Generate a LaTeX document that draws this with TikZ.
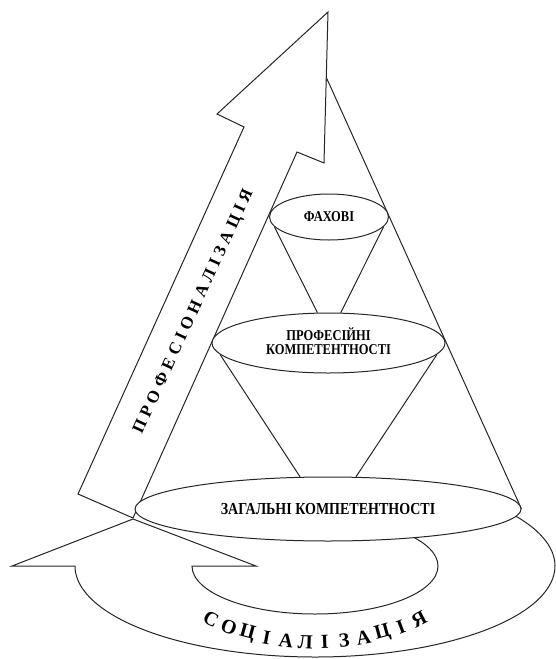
\documentclass[tikz,border=0pt]{standalone}
\usepackage{fontspec}
\setmainfont{Liberation Serif}
\usetikzlibrary{shapes.geometric,calc}
\pgfdeclarelayer{bg}
\pgfsetlayers{bg,main}
\newcommand{\tallbox}[1]{\scalebox{1}[1.2]{#1}}
\begin{document}
\begin{tikzpicture}[x=1pt,y=-1pt,
  ln/.style={draw=black!85, line width=1pt, line join=miter},
  ell/.style={ellipse, draw=black!85, fill=white, line width=1pt, inner sep=0pt},
  eltext/.style={font=\fontsize{12.5}{11}\selectfont\bfseries},
  proftxt/.style={font=\fontsize{17}{17}\selectfont\bfseries, inner sep=0pt},
  soclet/.style={font=\fontsize{20}{20}\selectfont\bfseries, inner sep=0pt}]
\useasboundingbox (0,0) rectangle (555,659);

% ellipses (levels)
\node[ell, eltext, minimum width=119pt, minimum height=46pt] (fah) at (329,217) {\tallbox{ФАХОВІ}};
\node[ell, eltext, minimum width=233pt, minimum height=60pt] (prof) at (328.5,343) {\tallbox{\begin{tabular}{@{}c@{}}ПРОФЕСІЙНІ\\КОМПЕТЕНТНОСТІ\end{tabular}}};
\node[ell, font=\fontsize{14}{14}\selectfont\bfseries, minimum width=386pt, minimum height=64pt] (zah) at (328,509) {\tallbox{ЗАГАЛЬНІ КОМПЕТЕНТНОСТІ}};

% inner cones
\draw[ln] (fah.190) -- (prof.110);
\draw[ln] (fah.-10) -- (prof.68);
\draw[ln] (prof.186) -- (zah.131);
\draw[ln] (prof.-6) -- (zah.49);

\begin{pgfonlayer}{bg}
  % socialisation circular arrow
  \coordinate (sc) at (315,566);
  \draw[ln, fill=white] ($(sc)+(-37:240 and 91)$)
    arc[start angle=-37, end angle=180, x radius=240, y radius=91]
    -- (12,566) coordinate (sbl) -- (133,519) coordinate (stip)
    -- (256,566) coordinate (sbr) -- ($(sc)+(-123,0)$)
    arc[start angle=180, end angle=-42, x radius=123, y radius=48];
  % pyramid
  \coordinate (apex) at (327,79);
  \draw[ln] (zah.west) -- (apex) -- (zah.east);
  % professionalisation arrow
  \draw[ln, fill=white] (328,12) coordinate (ptip) -- (324,163) -- (297,152)
    -- (133,518) -- (78,494) -- (244,127) -- (217,114) -- cycle;
\end{pgfonlayer}

% text in the upward arrow
\node[proftxt, rotate=65.4] (proftext) at (194,312) {\addfontfeature{LetterSpace=27}ПРОФЕСІОНАЛІЗАЦІЯ};

% text along the circular arrow
\foreach \ch/\a [count=\i] in {С/135.4,О/126.1,Ц/117.6,І/109.4,А/101.5,Л/93.8,І/86.2,З/78.5,А/70.6,Ц/62.4,І/53.9,Я/44.6}
  \node[soclet, rotate={atan2(76*cos(\a),146*sin(\a))}] (sl\i) at ($(sc)+(\a:146 and 76)$) {\ch};
\end{tikzpicture}
\end{document}
